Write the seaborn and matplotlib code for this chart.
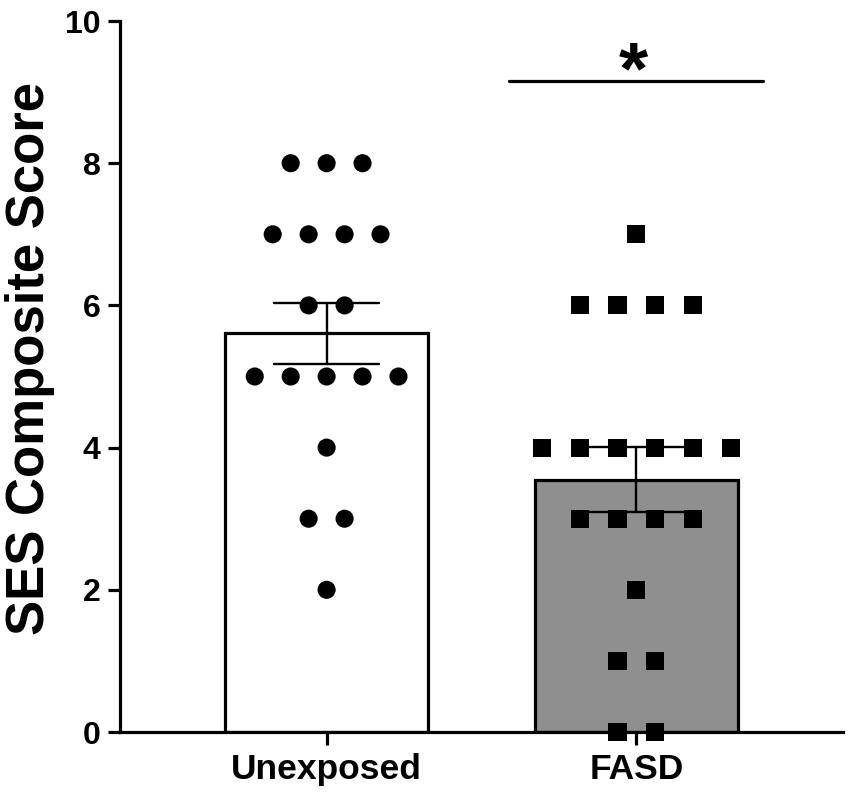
import numpy as np
import pandas as pd
import matplotlib
matplotlib.use("Agg")
import matplotlib.pyplot as plt
import seaborn as sns

# ------------------------------
# dados
# ------------------------------
grupos = ["Unexposed", "FASD"]
unexposed_scores = [8, 8, 8, 7, 7, 7, 7, 6, 6, 5, 5, 5, 5, 5, 4, 3, 3, 2]
fasd_scores = [7, 6, 6, 6, 6, 4, 4, 4, 4, 4, 4, 3, 3, 3, 3, 2, 1, 1, 0, 0]
y_ticks = [0, 2, 4, 6, 8, 10]
sig_label = "*"
y_label = "SES Composite Score"

df = pd.DataFrame({
    "group": ["Unexposed"] * len(unexposed_scores) + ["FASD"] * len(fasd_scores),
    "score": unexposed_scores + fasd_scores,
})

# posições dos pontos: linhas centradas em cada valor
spacing = {"Unexposed": 0.116, "FASD": 0.122}
xpos = []
for g, sub in df.groupby("group", sort=False):
    gi = grupos.index(g)
    pos = pd.Series(0.0, index=sub.index)
    for val, rows in sub.groupby("score"):
        n = len(rows)
        offs = (np.arange(n) - (n - 1) / 2) * spacing[g]
        pos.loc[rows.index] = gi + offs
    xpos.append(pos)
df["xpos"] = pd.concat(xpos)

# ------------------------------
# figura
# ------------------------------
sns.set_style("ticks")
plt.rcParams["font.family"] = ["Liberation Sans", "DejaVu Sans"]
plt.rcParams["font.weight"] = "bold"
for k in ["text.color", "axes.edgecolor", "axes.labelcolor", "xtick.color", "ytick.color"]:
    plt.rcParams[k] = "black"

fig = plt.figure(figsize=(8.51, 7.96), dpi=100)
ax = fig.add_axes([0.141, 0.0804, 0.8496, 0.8932])

sns.barplot(
    data=df, x="group", y="score", order=grupos,
    hue="group", palette={"Unexposed": "white", "FASD": "#8f8f8f"},
    legend=False, errorbar="se", capsize=0.34, width=0.655,
    edgecolor="black", linewidth=2.3,
    err_kws={"color": "black", "linewidth": 1.7}, ax=ax,
)

sns.scatterplot(
    data=df, x="xpos", y="score", style="group",
    markers={"Unexposed": "o", "FASD": "s"}, color="black",
    s=170, linewidth=0, legend=False, clip_on=False, zorder=5, ax=ax,
)

# barra de significância
ax.plot([0.589, 1.408], [9.15, 9.15], color="black", lw=2.3,
        solid_capstyle="round", clip_on=False)
ax.text(0.99, 8.98, sig_label, ha="center", va="baseline",
        fontsize=54, fontweight="bold")

ax.set_xlim(-0.667, 1.667)
ax.set_ylim(0, 10)
ax.set_yticks(y_ticks)
ax.set_xticks([0, 1])
ax.set_xticklabels(grupos)
ax.set_xlabel("")
ax.set_ylabel(y_label, fontsize=38, fontweight="bold")
ax.yaxis.set_label_coords(-0.09, 0.526)

for lab in ax.get_xticklabels():
    lab.set_fontweight("bold")
for lab in ax.get_yticklabels():
    lab.set_fontweight("bold")
ax.tick_params(axis="x", labelsize=25.5, length=9, width=2.3, pad=6)
ax.tick_params(axis="y", labelsize=23, length=9, width=2.3, pad=5)

sns.despine(ax=ax)
for s in ["left", "bottom"]:
    ax.spines[s].set_linewidth(2.3)

fig.savefig("out.png", dpi=100)
